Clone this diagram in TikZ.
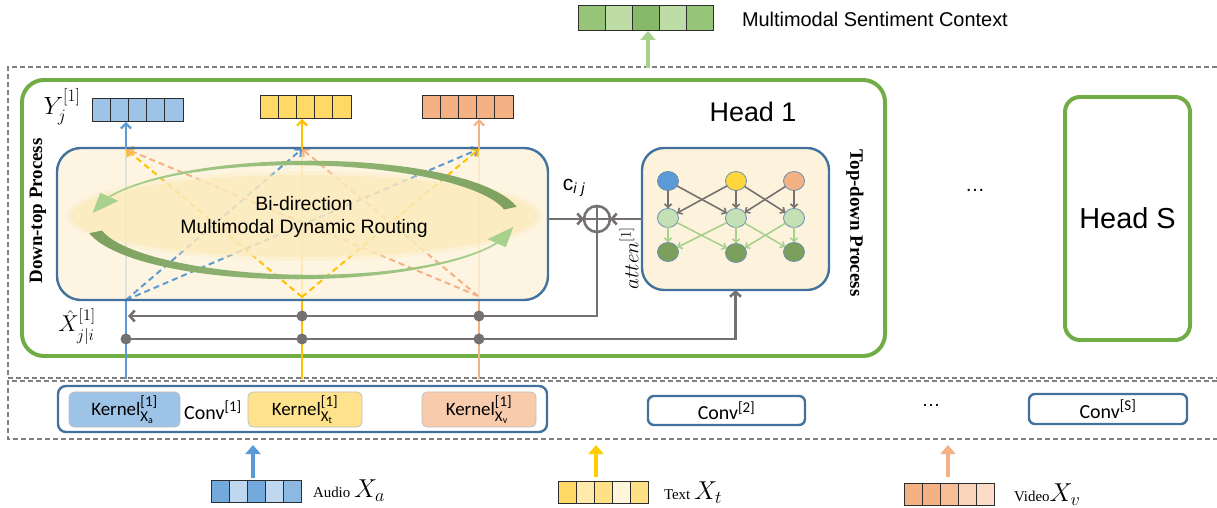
\RequirePackage{fix-cm}
\documentclass[tikz,border=0pt]{standalone}
\usepackage{amsmath}
\usepackage{fontspec}
\setmainfont{Liberation Serif}
\newfontfamily\hel{Liberation Sans}
\newfontfamily\kfont{Carlito}
\usetikzlibrary{arrows.meta,calc,shapes.geometric}

\definecolor{gframe}{RGB}{112,173,71}
\definecolor{bframe}{RGB}{65,113,156}
\definecolor{gline}{RGB}{118,113,113}
\definecolor{dashgray}{RGB}{128,128,128}
\definecolor{ablue}{RGB}{91,155,213}
\definecolor{tyellow}{RGB}{255,192,0}
\definecolor{vorange}{RGB}{244,177,131}
\definecolor{cblue}{RGB}{157,195,230}
\definecolor{cyellow}{RGB}{255,217,102}
\definecolor{corange}{RGB}{244,177,131}
\definecolor{cellline}{RGB}{45,45,45}
\definecolor{boxfill}{RGB}{253,243,220}
\definecolor{ellfill}{RGB}{252,234,188}
\definecolor{lgreen}{RGB}{169,209,142}
\definecolor{dgreen}{RGB}{125,160,95}
\definecolor{nlgreen}{RGB}{197,224,180}
\definecolor{ndgreen}{RGB}{124,160,92}
\definecolor{nyellow}{RGB}{255,215,60}
\definecolor{kblue}{RGB}{157,195,230}
\definecolor{kyellow}{RGB}{255,226,140}
\definecolor{korange}{RGB}{248,203,173}
\definecolor{mgreenA}{RGB}{150,196,120}
\definecolor{mgreenB}{RGB}{190,220,165}
\definecolor{mgreenC}{RGB}{134,186,104}

% a row of five coloured cells: name, left x, top y, cell width, height, colours
\newcommand\cellrow[6]{%
  \node[minimum width={5*#4bp}, minimum height={#5bp}, anchor=north west] (#1) at (#2,#3) {};
  \foreach \cc [count=\ci from 0] in {#6}
    {\filldraw[fill=\cc, draw=cellline, line width=1] (#2+\ci*#4,#3) rectangle ++(#4,#5);}
}
% scripts set at a fixed size in the current text font
\newcommand\scr[2]{\text{\fontsize{#1}{#1}\selectfont #2}}
\newcommand\kernlabel[1]{$\text{Kernel}^{\scr{15}{[1]}}_{\scr{15}{X}_{\scr{10}{#1}}}$}
\newcommand\convlabel[1]{$\text{Conv}^{\scr{15}{[#1]}}$}

\begin{document}
\begin{tikzpicture}[x=1bp, y=-1bp,
  every node/.style={inner sep=0, outer sep=0},
  frame/.style={draw=dashgray, line width=1.4, dash pattern=on 5bp off 3bp},
  headbox/.style={draw=gframe, line width=4, rounded corners=22bp},
  bluebox/.style={draw=bframe, line width=2.4},
  garrow/.style={draw=gline, line width=2.6, -{Straight Barb[length=5bp,width=11bp]}},
  tdarrow/.style={draw=gline, line width=1.6, -{Straight Barb[length=3.5bp,width=7bp]}},
  tdgarrow/.style={draw=lgreen, line width=1.6, -{Straight Barb[length=3.5bp,width=7bp]}},
  colarrow/.style={line width=2.2, -{Straight Barb[length=5bp,width=10bp]}},
  dasharrow/.style={line width=2, dash pattern=on 6bp off 4bp, -{Straight Barb[length=5bp,width=10bp]}},
  inarrow/.style={line width=5, -{Triangle[length=9bp,width=15bp]}},
  dot/.style={circle, fill=gline, minimum size=11bp},
  gnode/.style={ellipse, draw=bframe!80, line width=0.8, minimum width=21bp, minimum height=19bp},
  kbox/.style={rounded corners=5bp, draw=black!25, line width=0.8, minimum height=35bp, font=\kfont\fontsize{19}{22}\selectfont},
  convbox/.style={bluebox, rounded corners=6bp, minimum width=157bp, minimum height=29bp, font=\kfont\fontsize{20}{22}\selectfont},
  sans/.style={font=\hel\fontsize{#1}{#1}\selectfont},
  declare function={hwa(\t)=1+5.5*((160-\t)/148)^2; hwb(\t)=1+5.5*((340-\t)/148)^2;}
]
\useasboundingbox (0,0) rectangle (1217,508);

% dashed frames of the head stage and the convolution stage
\draw[frame] (1217,67) -- (8,67) -- (8,378) -- (1217,378);
\draw[frame] (1217,381) -- (8,381) -- (8,439) -- (1217,439);

% output context vector
\cellrow{msc}{578}{6}{27}{25}{mgreenA, mgreenB, mgreenC, mgreenB, mgreenA}
\node[sans=20, anchor=west] (msclabel) at (742,19) {Multimodal Sentiment Context};
\coordinate (headout) at (648,68);
\draw[inarrow, draw=lgreen, line width=5] (headout) -- (headout |- msc.south);

% heads
\node[headbox, minimum width=863bp, minimum height=276bp] (head1) at (453.5,218) {};
\node[sans=27, anchor=center] (head1label) at (753,112) {Head 1};
\node[headbox, rounded corners=15bp, minimum width=125bp, minimum height=243bp, sans=29] (headS) at (1127.5,218.5) {Head S};
\node[sans=20] (hdots) at (975,190) {…};

% column positions
\coordinate (colA) at (126,379);
\coordinate (colT) at (302,379);
\coordinate (colV) at (479,379);
\coordinate (tA) at (126,149);
\coordinate (tT) at (302,149);
\coordinate (tV) at (479,149);
\coordinate (bA) at (126,300);
\coordinate (bT) at (302,297);
\coordinate (bV) at (478,296);

% prediction vectors running through the routing block
\draw[line width=2.2, ablue] (colA) -- (tA);
\draw[line width=2.2, tyellow] (colT) -- (tT);
\draw[line width=2.2, vorange] (colV) -- (tV);

% routing block
\node[fill=boxfill, fill opacity=0.82, rounded corners=24bp, minimum width=491bp, minimum height=152bp] (routing) at (302.5,224) {};

% cross-modal routing links
\draw[dasharrow, ablue] (bA) -- (tT);
\draw[dasharrow, ablue] (bA) -- (tV);
\draw[dasharrow, tyellow] (bT) -- (tA);
\draw[dasharrow, tyellow] (bT) -- (tV);
\draw[dasharrow, vorange] (bV) -- (tA);
\draw[dasharrow, vorange] (bV) -- (tT);

% soft core of the routing block
\fill[ellfill, opacity=0.35] (304,216) ellipse [x radius=238, y radius=45];
\fill[ellfill, opacity=0.75] (304,216) ellipse [x radius=233, y radius=41];
\node[align=center, font=\hel\fontsize{19.5}{24}\selectfont] (routinglabel) at (304,217) {Bi-direction\\Multimodal Dynamic Routing};

% circulating arrows around the core
\shade[left color=lgreen, right color=dgreen]
  plot[domain=12:158, samples=60, variable=\t] ({303+(212+hwa(\t))*cos(\t)}, {220-(57+hwa(\t))*sin(\t)})
  -- plot[domain=158:12, samples=60, variable=\t] ({303+(212-hwa(\t))*cos(\t)}, {220-(57-hwa(\t))*sin(\t)}) -- cycle;
\fill[lgreen] ({303+222*cos(156)},{220-67*sin(156)}) -- ({303+212*cos(173)},{220-57*sin(173)}) -- ({303+202*cos(156)},{220-47*sin(156)}) -- cycle;
\shade[left color=dgreen, right color=lgreen]
  plot[domain=192:338, samples=60, variable=\t] ({303+(212+hwb(\t))*cos(\t)}, {220-(57+hwb(\t))*sin(\t)})
  -- plot[domain=338:192, samples=60, variable=\t] ({303+(212-hwb(\t))*cos(\t)}, {220-(57-hwb(\t))*sin(\t)}) -- cycle;
\fill[lgreen] ({303+222*cos(336)},{220-67*sin(336)}) -- ({303+212*cos(353)},{220-57*sin(353)}) -- ({303+202*cos(336)},{220-47*sin(336)}) -- cycle;

\draw[bluebox, rounded corners=24bp] (routing.south west) rectangle (routing.north east);

% routed output vectors
\cellrow{outA}{92}{99}{18.2}{23}{cblue,cblue,cblue,cblue,cblue}
\cellrow{outT}{260}{96}{18.2}{23}{cyellow,cyellow,cyellow,cyellow,cyellow}
\cellrow{outV}{422}{96}{18.2}{23}{corange,corange,corange,corange,corange}
\draw[colarrow, ablue] (tA) -- (tA |- outA.south);
\draw[colarrow, tyellow] (tT) -- (tT |- outT.south);
\draw[colarrow, vorange] (tV) -- (tV |- outV.south);
\node[font=\fontsize{25}{28}\selectfont] (ylabel) at (62,107) {$Y_j^{[1]}$};

% process labels
\node[rotate=90, font=\bfseries\fontsize{19}{20}\selectfont] (downtop) at (38,211) {Down-top Process};
\node[rotate=-90, font=\bfseries\fontsize{19}{20}\selectfont] (topdown) at (855,223) {Top-down Process};

% top-down attention block
\node[fill=boxfill, draw=bframe, line width=2.4, rounded corners=22bp, minimum width=187bp, minimum height=142bp] (tdbox) at (735.5,219) {};
\node[gnode, fill=ablue] (n11) at (668,181) {};
\node[gnode, fill=nyellow] (n12) at (736,181) {};
\node[gnode, fill=vorange] (n13) at (794,181) {};
\node[gnode, fill=nlgreen] (n21) at (668,218) {};
\node[gnode, fill=nlgreen] (n22) at (736,218) {};
\node[gnode, fill=nlgreen] (n23) at (794,218) {};
\node[gnode, fill=ndgreen] (n31) at (668,252) {};
\node[gnode, fill=ndgreen] (n32) at (736,253) {};
\node[gnode, fill=ndgreen] (n33) at (794,252) {};
\foreach \a/\b in {n11/n21, n11/n22, n12/n21, n12/n22, n12/n23, n13/n22, n13/n23}
  \draw[tdarrow] (\a) -- (\b);
\foreach \a/\b in {n21/n31, n21/n32, n22/n31, n22/n32, n22/n33, n23/n32, n23/n33}
  \draw[tdgarrow] (\a) -- (\b);

% fusion of routing coefficients and attention
\node[circle, draw=gline, line width=2.6, minimum size=26bp] (oplus) at (597,219) {};
\draw[gline, line width=2.6] (oplus.north) -- (oplus.south) (oplus.west) -- (oplus.east);
\draw[garrow] (routing.east |- oplus.west) -- (oplus.west);
\draw[garrow] (tdbox.west |- oplus.east) -- (oplus.east);
\node[font=\hel\fontsize{21}{22}\selectfont] (cij) at (574,188) {$\text{c}_{\text{\itshape i\,\,j}}$};
\node[rotate=90, font=\fontsize{21}{22}\selectfont] (atten) at (629,258) {$atten^{[1]}$};

% prediction feedback lines
\coordinate (hatin) at (128,316);
\draw[garrow] (oplus.south) |- (hatin);
\node[dot] (d1) at (302,316) {};
\node[dot] (d2) at (479,316) {};
\node[dot] (d3) at (126,339) {};
\node[dot] (d4) at (302,339) {};
\node[dot] (d5) at (479,339) {};
\draw[garrow] (d3.center) -| (tdbox.south);
\node[font=\fontsize{23}{26}\selectfont] (xlabel) at (77,326) {$\hat{X}_{j|i}^{[1]}$};

% convolution stage
\node[bluebox, rounded corners=8bp, minimum width=489bp, minimum height=46bp] (conv1) at (302.5,409) {};
\node[kbox, fill=kblue, minimum width=111bp] (kA) at (124.5,409.5) {\kernlabel{a}};
\node[kbox, fill=kyellow, minimum width=114bp] (kT) at (305,409.5) {\kernlabel{t}};
\node[kbox, fill=korange, minimum width=114bp] (kV) at (479,409.5) {\kernlabel{v}};
\node[font=\kfont\fontsize{20}{22}\selectfont] (conv1label) at (213,410) {\convlabel{1}};
\node[convbox] (conv2) at (726.5,410.5) {\convlabel{2}};
\node[sans=19] (cdots) at (931,405) {…};
\node[convbox, minimum width=158bp, minimum height=30bp] (convS) at (1108,409) {\convlabel{S}};

% input sequences
\cellrow{inA}{211}{480}{18}{22}{ablue!85, cblue!65, ablue!85, cblue!65, ablue!70}
\cellrow{inT}{558}{481}{18}{22}{cyellow, cyellow!55, cyellow!80, cyellow!25, cyellow!80}
\cellrow{inV}{904}{483}{18}{22}{corange, corange, corange!85, corange!55, corange!45}
\coordinate (upA) at (253,445);
\coordinate (upT) at (596,445);
\coordinate (upV) at (948,445);
\draw[inarrow, draw=ablue, fill=ablue] (upA |- inA.north) ++(0,-2) -- (upA);
\draw[inarrow, draw=tyellow!80!yellow, fill=tyellow] (upT |- inT.north) ++(0,-4) -- (upT);
\draw[inarrow, draw=vorange, fill=vorange] (upV |- inV.north) ++(0,-6) -- (upV);
\node[anchor=west, font=\fontsize{15}{17}\selectfont] (audiolabel) at (313,491) {Audio \fontsize{26}{28}\selectfont$X_a$};
\node[anchor=west, font=\fontsize{15}{17}\selectfont] (textlabel) at (664,493) {Text \fontsize{26}{28}\selectfont$X_t$};
\node[anchor=west, font=\fontsize{15}{17}\selectfont] (videolabel) at (1014,495) {Video\fontsize{26}{28}\selectfont$X_v$};
\end{tikzpicture}
\end{document}
